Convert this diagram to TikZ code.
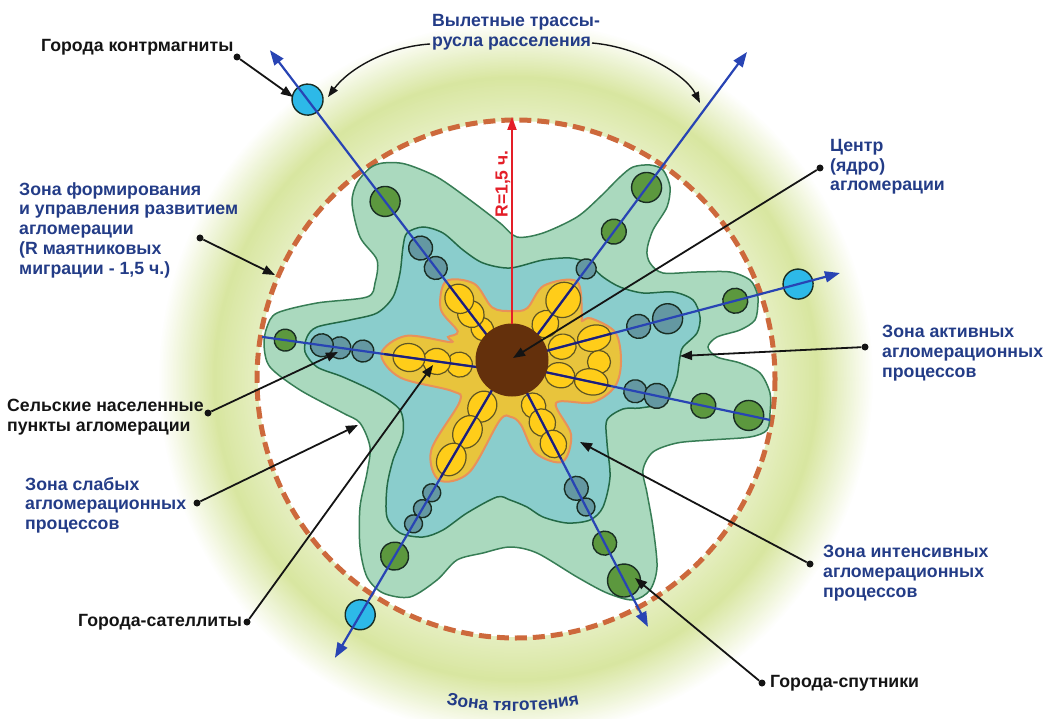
\documentclass[tikz,border=0pt]{standalone}
\usepackage{fontspec}
\setmainfont{Liberation Sans}
\usetikzlibrary{arrows.meta}

\definecolor{ringg}{RGB}{216,230,160}
\definecolor{dashc}{RGB}{205,105,60}
\definecolor{zg}{RGB}{170,217,190}
\definecolor{zgb}{RGB}{55,125,85}
\definecolor{zt}{RGB}{138,205,204}
\definecolor{ztb}{RGB}{35,105,70}
\definecolor{zy}{RGB}{232,196,60}
\definecolor{zyb}{RGB}{232,145,90}
\definecolor{yel}{RGB}{255,205,25}
\definecolor{yelb}{RGB}{95,85,35}
\definecolor{cg}{RGB}{92,152,62}
\definecolor{cb}{RGB}{100,152,162}
\definecolor{cc}{RGB}{45,185,232}
\definecolor{cbord}{RGB}{25,45,35}
\definecolor{rayc}{RGB}{40,68,180}
\definecolor{raynavy}{RGB}{30,30,120}
\definecolor{corebrown}{RGB}{100,48,12}
\definecolor{redc}{RGB}{228,30,40}
\definecolor{tblue}{RGB}{35,60,135}
\definecolor{tblack}{RGB}{20,20,20}

\tikzset{
  lab/.style={font=\fontsize{17.7}{19.8}\selectfont\bfseries, inner sep=0pt, align=left, anchor=north west},
  bl/.style={lab, text=tblue},
  bk/.style={lab, text=tblack},
  arcl/.style={font=\fontsize{17.5}{20}\selectfont\bfseries, text=tblue, inner sep=0pt, anchor=base},
  dotn/.style={circle, fill=tblack, inner sep=0pt, minimum size=7pt},
  ann/.style={draw=tblack, line width=1.8pt, -{Triangle[length=12pt,width=9pt]}},
  annc/.style={draw=tblack, line width=1.4pt, -{Triangle[length=11pt,width=8pt]}},
  ray/.style={draw=rayc, line width=2.2pt},
  rayin/.style={draw=raynavy, line width=2pt},
  rayarr/.style={ray, -{Triangle[length=15pt,width=11pt]}},
  gc/.style={fill=cg, draw=cbord, line width=1.4pt},
  bc/.style={fill=cb, draw=cbord, line width=1.4pt},
  cy/.style={fill=cc, draw=cbord, line width=1.4pt},
  ye/.style={fill=yel, draw=yelb, line width=1.2pt},
  fUL/.style={shift={(512,368)},rotate=127.3},
  fUR/.style={shift={(512,369)},rotate=53.45},
  fR/.style={shift={(512,360)},rotate=14.86},
  fRL/.style={shift={(512,365)},rotate=-12.03},
  fLR/.style={shift={(512,364)},rotate=-62.65},
  fLL/.style={shift={(512,356)},rotate=-120.4},
  fL/.style={shift={(512,372)},rotate=172.0},
}

\begin{document}
\begin{tikzpicture}[x=1pt,y=-1pt]
\useasboundingbox (0,0) rectangle (1044,719);
\clip (0,0) rectangle (1044,719);

% gravitation ring
\foreach \i in {0,...,64}{
  \pgfmathsetmacro\rr{358-1.5*\i}
  \pgfmathsetmacro\pp{(\rr>302) ? 100*(358-\rr)/56 : 100-(302-\rr)*0.8}
  \fill[ringg!\pp!white] (516,379) circle[radius=\rr];
}
\fill[white] (516,379) circle[radius=258];
\draw[dashc, line width=5pt, dash pattern=on 12pt off 6pt] (516,379) circle[radius=259];

% zone of weak processes
\draw[fill=zg, draw=zgb, line width=1.5pt] plot[smooth cycle, tension=0.5] coordinates {
(370,168) (383,163) (405,164) (437,177) (470,200) (500,223) (517,237) (543,233)
(577,217) (600,197) (620,177) (633,167) (650,165) (663,170) (670,187) (667,207)
(653,230) (647,250) (650,263) (663,273) (697,272) (730,272) (750,280) (757,293)
(758,303) (755,320) (740,330) (717,337) (708,347) (717,357) (740,363) (760,373)
(770,393) (770,413) (767,430) (750,437) (710,440) (677,443) (653,452) (643,470)
(647,493) (653,527) (657,567) (650,590) (633,600) (607,593) (577,577) (537,553)
(510,547) (483,553) (457,560) (437,580) (410,597) (383,593) (367,577) (360,547)
(360,507) (367,473) (370,447) (360,423) (343,413) (300,390) (270,367) (264,345)
(267,327) (277,313) (317,303) (367,297) (375,283) (377,260) (360,237) (352,203)
(357,183)};

% zone of active processes
\draw[fill=zt, draw=ztb, line width=1.5pt] plot[smooth cycle, tension=0.5] coordinates {
(400,273) (403,247) (407,233) (423,227) (443,233) (463,250) (483,263) (510,268)
(543,260) (570,258) (587,263) (603,277) (620,287) (643,293) (673,292) (693,300)
(700,317) (697,333) (683,347) (680,357) (677,377) (672,390) (665,403) (640,408)
(623,409) (607,420) (607,443) (610,477) (603,507) (590,520) (567,523) (543,517)
(527,507) (510,500) (497,497) (467,513) (443,530) (423,537) (400,533) (387,517)
(387,487) (393,460) (403,433) (400,410) (377,393) (343,377) (317,367) (305,352)
(307,337) (317,327) (350,320) (377,313) (393,297)};

% zone of intensive processes
\draw[fill=zy, draw=zyb, line width=2pt] plot[smooth cycle, tension=0.55] coordinates {
([fUL]62,-21) ([fUL]90,-21) ([fUL]109,0) ([fUL]90,21) ([fUL]60,21)
(512,311)
([fUR]58,-24) ([fUR]86,-24) ([fUR]109,0) ([fUR]85,24)
(582,321)
([fR]87,-20) ([fR]107,0) (621,362) ([fRL]105,0) ([fRL]86,20)
(556,403)
([fLR]90,-20) ([fLR]110,0) ([fLR]90,20) ([fLR]58,20)
(511,417)
([fLL]62,-22) ([fLL]122,-22) ([fLL]144,0) ([fLL]122,22) ([fLL]66,22)
(452,391)
([fL]110,-21) ([fL]132,0) ([fL]110,21) ([fL]65,21)
(448,337)};

% settlements along the rays
\begin{scope}[fUL]
  \draw[ye] (49,0) ellipse[x radius=12,y radius=11];
  \draw[ye] (68,0) ellipse[x radius=14,y radius=13];
  \draw[ye] (87,0) ellipse[x radius=15,y radius=14];
  \draw[bc] (125.8,0) circle[radius=11.5];
  \draw[bc] (150.8,0) circle[radius=12];
  \draw[gc] (209.4,0) circle[radius=15];
  \draw[cy] (337.4,0) circle[radius=15.5];
  \coordinate (ulO) at (0,0); \coordinate (ulY) at (104,0); \coordinate (ulE) at (399.6,0);
\end{scope}
\begin{scope}[fUR]
  \draw[ye] (56,0) ellipse[x radius=14,y radius=13];
  \draw[ye] (86,0) ellipse[x radius=18,y radius=17];
  \draw[bc] (124.6,0) circle[radius=10];
  \draw[gc] (171,0) circle[radius=12.5];
  \draw[gc] (226,0) circle[radius=15];
  \coordinate (urO) at (0,0); \coordinate (urY) at (104,0); \coordinate (urE) at (394.6,0);
\end{scope}
\begin{scope}[fR]
  \draw[ye] (52,0) ellipse[x radius=14,y radius=12.5];
  \draw[ye] (85,0) ellipse[x radius=17,y radius=13];
  \draw[bc] (131,0) circle[radius=12];
  \draw[bc] (161,0) circle[radius=15];
  \draw[gc] (231,0) circle[radius=12.5];
  \draw[cy] (296,0) circle[radius=15];
  \coordinate (rO) at (0,0); \coordinate (rY) at (103,0); \coordinate (rE) at (339.3,0);
\end{scope}
\draw[ye] (599,362) circle[radius=11.5];
\begin{scope}[fRL]
  \draw[ye] (49,0) ellipse[x radius=15,y radius=12.5];
  \draw[ye] (81,0) ellipse[x radius=17,y radius=13];
  \draw[bc] (126,0) circle[radius=11.5];
  \draw[bc] (148,0) circle[radius=12.5];
  \draw[gc] (195.6,0) circle[radius=12.5];
  \draw[gc] (242,0) circle[radius=15];
  \coordinate (rlO) at (0,0); \coordinate (rlY) at (101,0); \coordinate (rlE) at (263.8,0);
\end{scope}
\begin{scope}[fLR]
  \draw[ye] (47,0) ellipse[x radius=13,y radius=12];
  \draw[ye] (66,0) ellipse[x radius=14,y radius=13];
  \draw[ye] (90,0) ellipse[x radius=14,y radius=13];
  \draw[bc] (140,0) circle[radius=12];
  \draw[bc] (161,0) circle[radius=9];
  \draw[gc] (201.7,0) circle[radius=12];
  \draw[gc] (243.8,0) circle[radius=16.5];
  \coordinate (lrO) at (0,0); \coordinate (lrY) at (107,0); \coordinate (lrE) at (296,0);
\end{scope}
\begin{scope}[fLL]
  \draw[ye] (58.7,0) ellipse[x radius=16,y radius=14];
  \draw[ye] (88,0) ellipse[x radius=17,y radius=14];
  \draw[ye] (120,0) ellipse[x radius=17,y radius=14];
  \draw[bc] (158.6,0) circle[radius=9];
  \draw[bc] (177,0) circle[radius=9];
  \draw[bc] (194.6,0) circle[radius=9];
  \draw[gc] (232,0) circle[radius=14];
  \draw[cy] (300,0) circle[radius=15];
  \coordinate (llO) at (0,0); \coordinate (llY) at (141,0); \coordinate (llE) at (350,0);
\end{scope}
\begin{scope}[fL]
  \draw[ye] (53,0) ellipse[x radius=13,y radius=12.5];
  \draw[ye] (76,0) ellipse[x radius=14,y radius=13];
  \draw[ye] (104,0) ellipse[x radius=16,y radius=14];
  \draw[bc] (150.6,0) circle[radius=11];
  \draw[bc] (173.8,0) circle[radius=11];
  \draw[bc] (192,0) circle[radius=11.5];
  \draw[gc] (229,0) circle[radius=11];
  \coordinate (lO) at (0,0); \coordinate (lY) at (129,0); \coordinate (lE) at (252.4,0);
\end{scope}

% rays
\draw[rayarr] (ulO) -- (ulE);
\draw[rayarr] (urO) -- (urE);
\draw[rayarr] (rO) -- (rE);
\draw[ray] (rlO) -- (rlE);
\draw[rayarr] (lrO) -- (lrE);
\draw[rayarr] (llO) -- (llE);
\draw[ray] (lO) -- (lE);
\draw[rayin] (ulO) -- (ulY);
\draw[rayin] (urO) -- (urY);
\draw[rayin] (rO) -- (rY);
\draw[rayin] (rlO) -- (rlY);
\draw[rayin] (lrO) -- (lrY);
\draw[rayin] (llO) -- (llY);
\draw[rayin] (lO) -- (lY);

% core
\fill[corebrown] (512,360) circle[radius=36.5];

% radius arrow
\coordinate (rb) at (512,324);
\coordinate (rt) at (512,117);
\draw[redc, line width=2pt, -{Triangle[length=13pt,width=9pt]}] (rb) -- (rt);
\node[rotate=90, text=redc, font=\fontsize{17.5}{20}\selectfont\bfseries, inner sep=0pt] (rlab) at (503,184) {R=1,5 ч.};

% labels
\node[bk] (tk) at (41,39) {Города контрмагниты};
\node[bl] (tv) at (432,14) {Вылетные трассы-\\русла расселения};
\node[bl] (tz) at (19,182) {Зона формирования\\и управления развитием\\агломерации\\(R маятниковых\\миграции - 1,5 ч.)};
\node[bl] (tc) at (830,139) {Центр\\(ядро)\\агломерации};
\node[bl] (ta) at (882,325) {Зона активных\\агломерационных\\процессов};
\node[bk] (ts) at (7,399) {Сельские населенные\\пункты агломерации};
\node[bl] (tw) at (25,477) {Зона слабых\\агломерационных\\процессов};
\node[bk] (tsat) at (78,614) {Города-сателлиты};
\node[bl] (ti) at (823,545) {Зона интенсивных\\агломерационных\\процессов};
\node[bk] (tsp) at (770,675) {Города-спутники};

% "Зона тяготения" set along the lower arc of the ring
\foreach \ch/\xx/\yy/\aa [count=\k] in {
  З/451.6/705.3/-10.65, о/462.1/707.1/-8.81, н/472.8/708.5/-6.96, а/482.9/709.6/-5.20,
  т/497.0/710.6/-2.77, я/506.5/710.9/-1.12, г/515.4/711.0/0.42, о/524.5/710.8/1.99,
  т/534.2/710.3/3.67, е/543.5/709.6/5.27, н/553.6/708.5/7.03, и/564.2/707.0/8.87,
  я/574.6/705.2/10.69}{
  \node[arcl, rotate=\aa] (zt\k) at (\xx,\yy) {\ch};
}

% annotation arrows
\node[dotn] (d1) at (237,57) {};  \coordinate (t1) at (293,97);
\node[dotn] (d2) at (200,238) {}; \coordinate (t2) at (275,275);
\node[dotn] (d3) at (820,168) {}; \coordinate (t3) at (513,358);
\node[dotn] (d4) at (865,347) {}; \coordinate (t4) at (680,356);
\node[dotn] (d5) at (208,413) {}; \coordinate (t5) at (338,352);
\node[dotn] (d6) at (197,503) {}; \coordinate (t6) at (358,425);
\node[dotn] (d7) at (247,622) {}; \coordinate (t7) at (433,365);
\node[dotn] (d8) at (810,564) {}; \coordinate (t8) at (580,442);
\node[dotn] (d9) at (762,683) {}; \coordinate (t9) at (635,578);
\draw[ann] (d1) -- (t1);
\draw[ann] (d2) -- (t2);
\draw[ann] (d3) -- (t3);
\draw[ann] (d4) -- (t4);
\draw[ann] (d5) -- (t5);
\draw[ann] (d6) -- (t6);
\draw[ann] (d7) -- (t7);
\draw[ann] (d8) -- (t8);
\draw[ann] (d9) -- (t9);

\coordinate (v1) at (430,44); \coordinate (v1t) at (328,97);
\coordinate (v2) at (592,43); \coordinate (v2t) at (700,103);
\draw[annc] (v1) .. controls (385,47) and (348,70) .. (v1t);
\draw[annc] (v2) .. controls (640,47) and (686,75) .. (v2t);
\end{tikzpicture}
\end{document}
